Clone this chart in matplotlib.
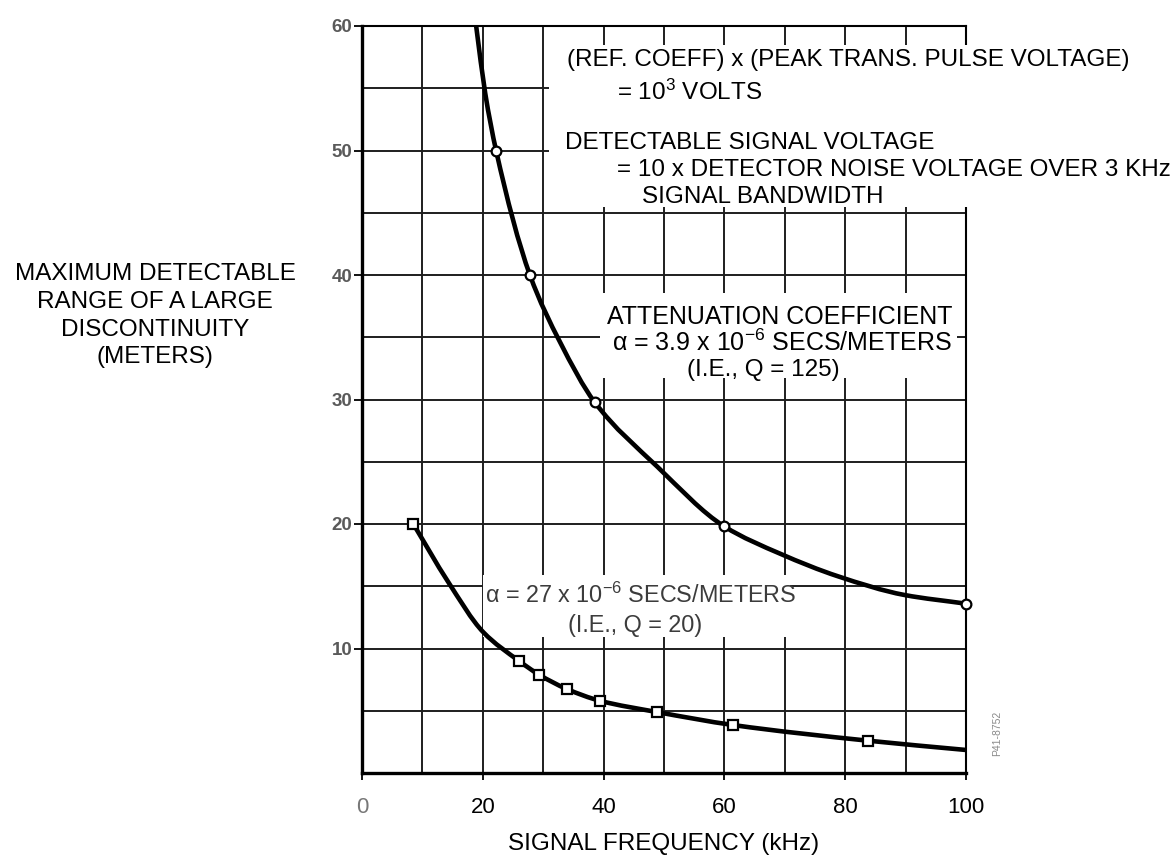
import matplotlib
matplotlib.use("Agg")
import matplotlib.pyplot as plt
from matplotlib.patches import Rectangle, PathPatch
from matplotlib.path import Path

plt.rcParams["font.family"] = ["Liberation Sans", "DejaVu Sans"]
plt.rcParams["mathtext.fontset"] = "custom"
plt.rcParams["mathtext.rm"] = "Liberation Sans"
plt.rcParams["mathtext.it"] = "Liberation Sans:italic"
plt.rcParams["mathtext.bf"] = "Liberation Sans:bold"

# ---- data -------------------------------------------------------------
# Q = 125 curve (alpha = 3.9e-6 s/m): plotted points and traced line
q125_freq = [22.2, 27.8, 38.5, 60.0, 100.0]
q125_range = [50.0, 40.0, 29.8, 19.8, 13.6]
q125_trace_freq = [18.9, 20.4, 22.2, 27.8, 32.8, 38.5, 48.9, 60.0, 69.3, 78.8, 89.8, 100.0]
q125_trace_range = [60.0, 54.6, 50.0, 40.0, 34.6, 29.8, 24.6, 19.8, 17.6, 15.8, 14.3, 13.6]

# Q = 20 curve (alpha = 27e-6 s/m): plotted points and traced line
q20_freq = [8.5, 26.0, 29.3, 33.9, 39.4, 48.8, 61.5, 83.7]
q20_range = [20.0, 9.0, 7.9, 6.75, 5.8, 4.9, 3.85, 2.6]
q20_trace_freq = [8.5, 14.2, 20.1, 26.0, 29.3, 33.9, 39.4, 48.8, 61.5, 83.7, 100.0]
q20_trace_range = [20.0, 15.4, 11.3, 9.0, 7.9, 6.75, 5.8, 4.9, 3.85, 2.6, 1.85]

x_ticks = [0, 20, 40, 60, 80, 100]
y_ticks = [10, 20, 30, 40, 50, 60]
x_grid = [10, 20, 30, 40, 50, 60, 70, 80, 90]
y_grid = [5, 10, 15, 20, 25, 30, 35, 40, 45, 50, 55]

W, H = 1175, 858
fig = plt.figure(figsize=(W / 100, H / 100), dpi=100)
fig.patch.set_facecolor("white")


def fx(px):
    return px / W


def fy(py):
    return 1 - py / H


def smooth_curve(xs, ys):
    """Cubic Bezier path through the traced points (monotone tangents)."""
    n = len(xs)
    h = [xs[i + 1] - xs[i] for i in range(n - 1)]
    d = [(ys[i + 1] - ys[i]) / h[i] for i in range(n - 1)]
    m = [0.0] * n
    m[0], m[-1] = d[0], d[-1]
    for i in range(1, n - 1):
        if d[i - 1] * d[i] <= 0:
            m[i] = 0.0
        else:
            w1 = 2 * h[i] + h[i - 1]
            w2 = h[i] + 2 * h[i - 1]
            m[i] = (w1 + w2) / (w1 / d[i - 1] + w2 / d[i])
    verts = [(xs[0], ys[0])]
    codes = [Path.MOVETO]
    for i in range(n - 1):
        verts += [(xs[i] + h[i] / 3, ys[i] + m[i] * h[i] / 3),
                  (xs[i + 1] - h[i] / 3, ys[i + 1] - m[i + 1] * h[i] / 3),
                  (xs[i + 1], ys[i + 1])]
        codes += [Path.CURVE4] * 3
    return Path(verts, codes)


ax = fig.add_axes([fx(362), fy(773), fx(966) - fx(362), fy(26) - fy(773)])
ax.set_xlim(0, 100)
ax.set_ylim(0, 60)

# grid
for gx in x_grid:
    ax.axvline(gx, color="#1e1e1e", lw=1.4, zorder=0.5)
for gy in y_grid:
    ax.axhline(gy, color="#1e1e1e", lw=1.4, zorder=0.5)

# white masks behind the annotation blocks
for (x0, y0, x1, y1) in [(549, 45, 1175, 207), (600, 293, 957, 378), (483, 575, 790, 637)]:
    ax.add_patch(Rectangle((fx(x0), fy(y1)), fx(x1) - fx(x0), fy(y0) - fy(y1),
                           transform=fig.transFigure, facecolor="white",
                           edgecolor="none", zorder=2.7, clip_on=False))

# curves
for fr, rg in [(q125_trace_freq, q125_trace_range), (q20_trace_freq, q20_trace_range)]:
    ax.add_patch(PathPatch(smooth_curve(fr, rg), facecolor="none", edgecolor="black",
                           lw=3.3, capstyle="round", joinstyle="round", zorder=3))
ax.plot(q125_freq, q125_range, ls="none", marker="o", ms=7, mfc="white",
        mec="black", mew=1.6, zorder=4, clip_on=False)
ax.plot(q20_freq, q20_range, ls="none", marker="s", ms=6.5, mfc="white",
        mec="black", mew=1.6, zorder=4, clip_on=False)

# frame
for side in ("left", "bottom"):
    ax.spines[side].set_linewidth(2.4)
for side in ("top", "right"):
    ax.spines[side].set_linewidth(1.5)
for sp in ax.spines.values():
    sp.set_color("black")

ax.set_xticks(x_ticks)
ax.set_yticks(y_ticks)
ax.tick_params(axis="x", direction="out", length=5, width=1.3, pad=12,
               labelsize=16, labelcolor="black")
ax.tick_params(axis="y", direction="out", length=6, width=1.3, pad=1,
               labelsize=13.5, labelcolor="#5a5a5a")
for lab in ax.get_yticklabels():
    lab.set_fontweight("bold")
ax.get_xticklabels()[0].set_color("#777777")

ax.set_xlabel("SIGNAL FREQUENCY (kHz)", fontsize=17.5)
ax.xaxis.set_label_coords(0.5, -(833 - 773) / (773 - 26))
ax.xaxis.label.set_verticalalignment("top")

FS = 17.5


def label(px, py, s, ha="left", color="black", size=FS, **kw):
    fig.text(fx(px), fy(py), s, ha=ha, va="baseline", fontsize=size,
             color=color, zorder=3, **kw)


label(567, 66, "(REF. COEFF) x (PEAK TRANS. PULSE VOLTAGE)")
label(617, 100, "= 10$^{3}$ VOLTS")
label(565, 149, "DETECTABLE SIGNAL VOLTAGE")
label(617, 176, "= 10 x DETECTOR NOISE VOLTAGE OVER 3 KHz")
label(642, 203, "SIGNAL BANDWIDTH")
label(607, 324, "ATTENUATION COEFFICIENT", size=18)
label(612, 351, "α = 3.9 x 10$^{-6}$ SECS/METERS", size=18)
label(763, 376, "(I.E., Q = 125)", ha="center")
label(485, 603, "α = 27 x 10$^{-6}$ SECS/METERS", color="#3c3c3c", size=16.8)
label(568, 632, "(I.E., Q = 20)", color="#3c3c3c", size=16.8)

# y-axis title
for py, s in zip([280, 308, 336, 363],
                 ["MAXIMUM DETECTABLE", "RANGE OF A LARGE", "DISCONTINUITY", "(METERS)"]):
    label(155, py, s, ha="center")

fig.text(fx(997), fy(733), "P41-8752", rotation=90, ha="center", va="center",
         fontsize=7.5, color="#8a8a8a")

fig.savefig("out.png", dpi=100, facecolor="white")
